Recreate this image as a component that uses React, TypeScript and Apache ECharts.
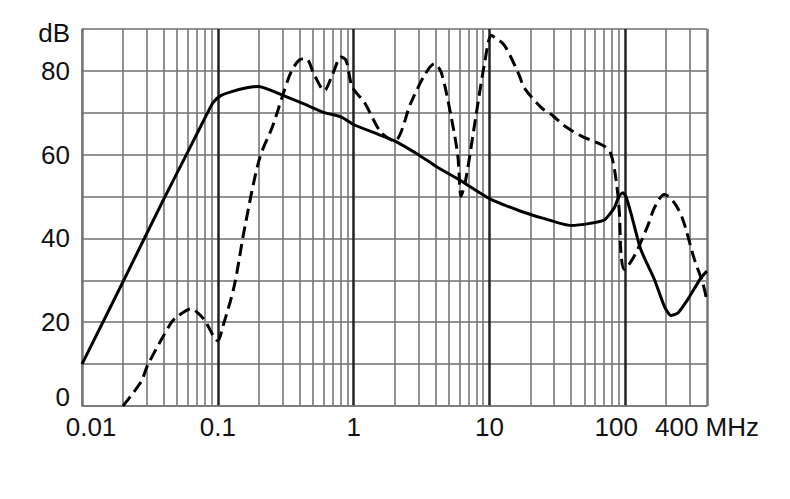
import React, { useEffect, useRef } from 'react';
import * as echarts from 'echarts';

// solid curve
const solidFreq = [0.01, 0.02, 0.04, 0.06, 0.088, 0.093, 0.105, 0.125, 0.16, 0.2, 0.3, 0.43, 0.6, 0.8, 1, 1.4, 2, 3, 4, 6.2, 10, 17, 25, 40, 55, 70, 83, 90, 96, 101, 110, 130, 164, 194, 217, 244, 288, 361, 400];
const solidDb = [10, 29.6, 49.4, 60.6, 71.3, 72.6, 74.1, 75, 75.9, 76.3, 74.2, 72.1, 70.1, 69.1, 67.2, 65.3, 63.3, 60, 57.3, 53.7, 49.5, 46.5, 44.8, 43.1, 43.6, 44.4, 47.3, 50.1, 50.9, 50.1, 46.1, 37.4, 30.2, 23.8, 21.6, 22.2, 25.4, 30.6, 32.2];

// dashed curve
const dashedFreq = [0.02, 0.0272, 0.0305, 0.0452, 0.0506, 0.0635, 0.068, 0.0795, 0.1, 0.109, 0.132, 0.157, 0.202, 0.254, 0.3, 0.346, 0.398, 0.447, 0.514, 0.608, 0.702, 0.808, 0.88, 0.98, 1.2, 1.59, 2, 2.65, 3.32, 3.93, 4.41, 5.21, 5.85, 6.18, 6.7, 7.96, 9.13, 10.3, 10.8, 12.9, 16.6, 18, 24, 29.3, 35.6, 47.2, 70.2, 78.5, 85.5, 90.5, 93, 98.4, 116.6, 146, 165, 194, 230, 265, 323, 372, 400];
const dashedDb = [0, 5.8, 9.8, 19.8, 21.4, 23.2, 22.8, 20.6, 15.6, 19, 28.6, 42.2, 58.9, 66.9, 74.1, 79.7, 82.6, 82.9, 79, 75.3, 79.3, 83.3, 82.5, 76.1, 72.5, 65.3, 63.3, 72.5, 78.9, 81.7, 79.7, 69.3, 59.7, 50.1, 54.1, 69.3, 81.1, 88.5, 88.1, 86.1, 78.9, 76, 71.3, 69.3, 66.9, 64.5, 62, 60.1, 54.1, 46.2, 36.6, 32.6, 35.8, 42.9, 47.5, 50.5, 48.5, 44.6, 35, 29.4, 25];

// axes
const decadeLabels = [0.01, 0.1, 1, 10, 100];
const yLabels = [0, 20, 40, 60, 80];
const minorDecades = [0.01, 0.1, 1, 10];
const minorMultipliers = [2, 3, 4, 5, 6, 7, 8, 9];
const lastDecadeMinor = [200, 300];

const FONT = "'Liberation Sans', Arial, sans-serif";
const FS = 26;

const App = () => {
  const chartRef = useRef<HTMLDivElement>(null);

  useEffect(() => {
    const chart = echarts.init(chartRef.current, null, { renderer: 'svg' });

    const minorLines: number[] = [];
    minorDecades.forEach((d) => {
      minorMultipliers.forEach((m) => minorLines.push(+(d * m).toPrecision(3)));
    });
    lastDecadeMinor.forEach((v) => minorLines.push(v));

    const options = {
      animation: false,
      grid: { left: 82, right: 83, top: 29, bottom: 93 },
      xAxis: {
        type: 'log',
        logBase: 10,
        min: 0.01,
        max: 400,
        name: '400 MHz',
        nameLocation: 'end',
        nameGap: -52,
        nameTextStyle: {
          fontFamily: FONT,
          fontSize: FS,
          color: '#111',
          verticalAlign: 'top',
          align: 'left',
          padding: [8, 0, 0, 0],
        },
        axisLine: { show: true, lineStyle: { color: '#777', width: 1.5 } },
        axisTick: { show: false },
        axisLabel: {
          margin: 8,
          fontFamily: FONT,
          fontSize: FS,
          color: '#111',
          formatter: (v: number) => {
            const r = +(+v).toPrecision(3);
            if (decadeLabels.indexOf(r) < 0) return '';
            if (r === 0.01) return '{l|0.01}';
            if (r === 100) return '{r|100}';
            return String(r);
          },
          rich: {
            l: { fontFamily: FONT, fontSize: FS, color: '#111', padding: [0, 0, 0, 18] },
            r: { fontFamily: FONT, fontSize: FS, color: '#111', padding: [0, 18, 0, 0] },
          },
        },
        splitLine: {
          show: true,
          lineStyle: { color: ['#777', '#222', '#222', '#222', '#222', '#777'], width: 2.5 },
        },
      },
      yAxis: {
        type: 'value',
        min: 0,
        max: 90,
        interval: 10,
        axisLine: { show: true, lineStyle: { color: '#777', width: 1.5 } },
        axisTick: { show: false },
        axisLabel: {
          margin: 12,
          fontFamily: FONT,
          fontSize: FS,
          color: '#111',
          formatter: (v: number) => {
            if (v === 90) return '{d|dB}';
            if (v === 0) return '{z|0}';
            return yLabels.indexOf(v) >= 0 ? String(v) : '';
          },
          rich: {
            d: { fontFamily: FONT, fontSize: FS, color: '#111', padding: [8, 0, 0, 0] },
            z: { fontFamily: FONT, fontSize: FS, color: '#111', padding: [0, 0, 18, 0] },
          },
        },
        splitLine: { show: true, lineStyle: { color: '#6f6f6f', width: 1.5 } },
      },
      series: [
        {
          name: 'grid',
          type: 'line',
          data: [],
          silent: true,
          markLine: {
            z: 1,
            silent: true,
            symbol: ['none', 'none'],
            label: { show: false },
            lineStyle: { color: '#777', type: 'solid', width: 1.6 },
            emphasis: { disabled: true },
            data: minorLines.map((v) => ({ xAxis: v })),
          },
        },
        {
          name: 'solid',
          type: 'line',
          smooth: 0.2,
          showSymbol: false,
          data: solidFreq.map((f, i) => [f, solidDb[i]]),
          lineStyle: { color: '#000', width: 3 },
          z: 3,
        },
        {
          name: 'dashed',
          type: 'line',
          smooth: 0.3,
          showSymbol: false,
          data: dashedFreq.map((f, i) => [f, dashedDb[i]]),
          lineStyle: { color: '#000', width: 3, type: [12, 6] },
          z: 3,
        },
      ],
    };

    chart.setOption(options);

    return () => {
      chart.dispose();
    };
  }, []);

  return (
    <div
      ref={chartRef}
      style={{ position: 'fixed', left: 0, top: 0, width: '790px', height: '499px', background: '#fff' }}
    ></div>
  );
};

export default App;
